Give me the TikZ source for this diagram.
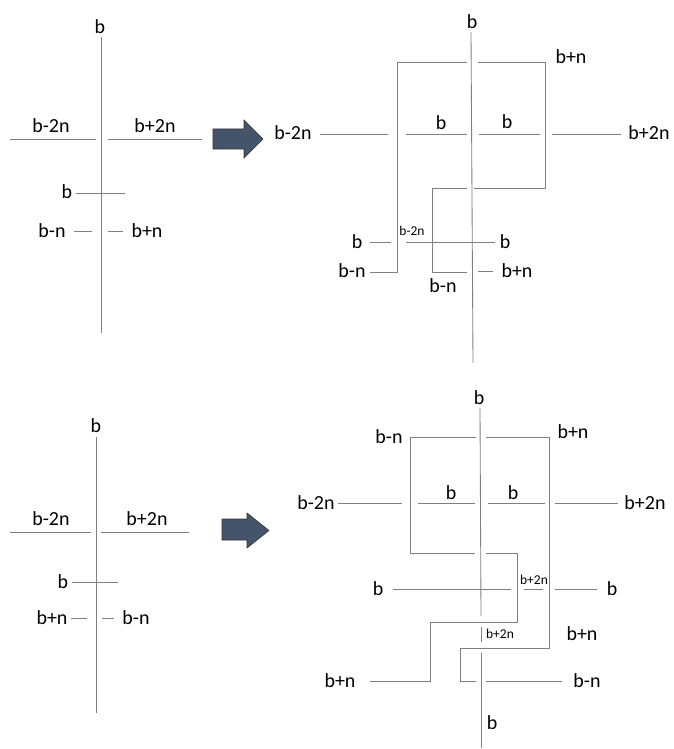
\documentclass[tikz,border=0pt]{standalone}
\usepackage{fontspec}
\setmainfont{Carlito}
\definecolor{wire}{RGB}{128,128,128}
\definecolor{arrowfill}{HTML}{44546A}
\tikzset{
  wirel/.style={draw=wire, line width=0.85pt},
  lbl/.style={inner sep=0pt, font=\fontsize{20}{21}\selectfont},
  slbl/.style={inner sep=0pt, font=\fontsize{13.5}{14}\selectfont},
  bigarrow/.style={fill=arrowfill, draw=black!80, line width=0.6pt, line join=miter}
}
\begin{document}
\begin{tikzpicture}[x=1pt,y=-1pt]
\useasboundingbox (0,0) rectangle (674,749);

% ---------- Panel 1 ----------
\node[lbl] (p1top) at (100,27) {b};
\draw[wirel] (101,37) -- (101,333);
\draw[wirel] (10,139) -- (96,139);
\node[lbl] (p1l2n) at (51,126) {b-2n};
\draw[wirel] (108,139) -- (202,139);
\node[lbl] (p1r2n) at (155,126) {b+2n};
\node[lbl] (p1b) at (67,192) {b};
\draw[wirel] (76,193) -- (125,193);
\node[lbl] (p1ln) at (52,231) {b-n};
\draw[wirel] (74,231) -- (92,231);
\draw[wirel] (108,231) -- (123,231);
\node[lbl] (p1rn) at (147,231) {b+n};

% arrow 1
\draw[bigarrow] (213,129) -- (244,129) -- (244,120) -- (263,139) -- (244,158) -- (244,149) -- (213,149) -- cycle;

% ---------- Panel 2 ----------
\node[lbl] (p2top) at (472,22) {b};
\draw[wirel] (471,32) -- (473,363);
\draw[wirel] (467,62) -- (397,62) -- (397,272) -- (370,272);
\draw[wirel] (478,62) -- (545,62) -- (545,188) -- (474,188);
\draw[wirel] (467,188) -- (432,188) -- (432,272) -- (467,272);
\node[lbl] (p2rn) at (571,57) {b+n};
\node[lbl] (p2ln) at (352,271) {b-n};
\node[lbl] (p2ln2) at (443,286) {b-n};
\node[lbl] (p2l2n) at (293,133) {b-2n};
\draw[wirel] (320,134) -- (388,134);
\draw[wirel] (406,134) -- (467,134);
\node[lbl] (p2b1) at (441,123) {b};
\draw[wirel] (479,134) -- (540,134);
\node[lbl] (p2b2) at (507,122) {b};
\draw[wirel] (552,134) -- (621,134);
\node[lbl] (p2r2n) at (649,133) {b+2n};
\node[lbl] (p2b3) at (357,242) {b};
\draw[wirel] (370,242) -- (391,242);
\node[slbl] (p2s2n) at (412,231) {b-2n};
\draw[wirel] (406,242) -- (495,242);
\node[lbl] (p2b4) at (505,242) {b};
\draw[wirel] (478,271) -- (493,271);
\node[lbl] (p2rn2) at (517,271) {b+n};

% ---------- Panel 3 ----------
\node[lbl] (p3top) at (96,426) {b};
\draw[wirel] (96,437) -- (96,713);
\draw[wirel] (10,532) -- (91,532);
\node[lbl] (p3l2n) at (51,519) {b-2n};
\draw[wirel] (101,532) -- (189,532);
\node[lbl] (p3r2n) at (147,519) {b+2n};
\node[lbl] (p3b) at (63,582) {b};
\draw[wirel] (72,582) -- (118,582);
\node[lbl] (p3ln) at (52,618) {b+n};
\draw[wirel] (71,618) -- (87,618);
\draw[wirel] (102,618) -- (114,618);
\node[lbl] (p3rn) at (136,618) {b-n};

% arrow 2
\draw[bigarrow] (222,519) -- (247,519) -- (247,513) -- (269,530.5) -- (247,548) -- (247,540) -- (222,540) -- cycle;

% ---------- Panel 4 ----------
\node[lbl] (p4top) at (479,398) {b};
\draw[wirel] (480,408) -- (481,616);
\draw[wirel] (481,627) -- (481,642);
\draw[wirel] (481,653) -- (481,748);
\draw[wirel] (476,437) -- (410,437) -- (410,553) -- (475,553);
\draw[wirel] (486,437) -- (549,437) -- (549,648) -- (460,648) -- (460,681) -- (476,681);
\draw[wirel] (486,553) -- (517,553) -- (517,622) -- (430,622) -- (430,681) -- (370,681);
\draw[wirel] (486,681) -- (562,681);
\node[lbl] (p4ln) at (389,437) {b-n};
\node[lbl] (p4rn) at (573,432) {b+n};
\node[lbl] (p4l2n) at (316,503) {b-2n};
\draw[wirel] (338,503) -- (402,503);
\draw[wirel] (418,503) -- (475,503);
\node[lbl] (p4b1) at (451,493) {b};
\draw[wirel] (488,503) -- (545,503);
\node[lbl] (p4b2) at (513,493) {b};
\draw[wirel] (555,503) -- (618,503);
\node[lbl] (p4r2n) at (645,503) {b+2n};
\node[lbl] (p4b3) at (378,589) {b};
\draw[wirel] (393,589) -- (511,589);
\node[slbl] (p4s2n) at (534,580) {b+2n};
\draw[wirel] (524,589) -- (543,589);
\draw[wirel] (555,589) -- (597,589);
\node[lbl] (p4b4) at (612,589) {b};
\node[slbl] (p4s2n2) at (500,634) {b+2n};
\node[lbl] (p4rn2) at (582,634) {b+n};
\node[lbl] (p4ln2) at (340,681) {b+n};
\node[lbl] (p4rn3) at (587,681) {b-n};
\node[lbl] (p4bot) at (492,723) {b};
\end{tikzpicture}
\end{document}
